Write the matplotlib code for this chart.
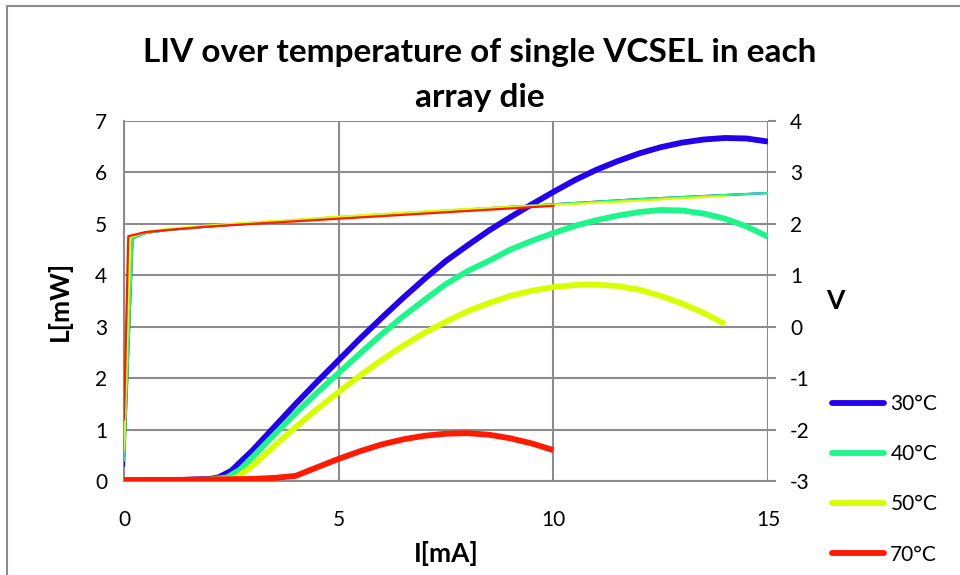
import matplotlib.pyplot as plt
from matplotlib.lines import Line2D

plt.rcParams['font.family'] = ['Lato', 'DejaVu Sans']
plt.rcParams['axes.unicode_minus'] = False

# light output L[mW] vs current I[mA]
i30 = [0, 1, 2, 2.2, 2.5, 3, 3.5, 4, 4.5, 5, 5.5, 6, 6.5, 7, 7.5, 8, 8.5, 9, 9.5,
       10, 10.5, 11, 11.5, 12, 12.5, 13, 13.5, 14, 14.5, 15]
l30 = [0, 0.01, 0.04, 0.07, 0.2, 0.6, 1.05, 1.5, 1.93, 2.35, 2.77, 3.17, 3.56, 3.93,
       4.28, 4.58, 4.87, 5.13, 5.38, 5.62, 5.85, 6.05, 6.22, 6.37, 6.49, 6.58, 6.64,
       6.67, 6.66, 6.6]
i40 = [0, 1, 2, 2.4, 2.7, 3, 3.5, 4, 4.5, 5, 5.5, 6, 6.5, 7, 7.5, 8, 8.5, 9, 9.5,
       10, 10.5, 11, 11.5, 12, 12.5, 13, 13.5, 14, 14.5, 15]
l40 = [0, 0.01, 0.03, 0.07, 0.22, 0.47, 0.9, 1.32, 1.72, 2.1, 2.48, 2.85, 3.2, 3.52,
       3.83, 4.08, 4.28, 4.5, 4.67, 4.82, 4.96, 5.07, 5.16, 5.23, 5.27, 5.26, 5.2,
       5.1, 4.95, 4.75]
i50 = [0, 1, 2, 2.6, 3, 3.5, 4, 4.5, 5, 5.5, 6, 6.5, 7, 7.5, 8, 8.5, 9, 9.5, 10,
       10.5, 11, 11.5, 12, 12.5, 13, 13.5, 14]
l50 = [0, 0.01, 0.02, 0.05, 0.3, 0.68, 1.05, 1.4, 1.73, 2.05, 2.35, 2.63, 2.88, 3.1,
       3.3, 3.46, 3.6, 3.7, 3.77, 3.81, 3.82, 3.79, 3.72, 3.6, 3.45, 3.27, 3.05]
i70 = [0, 1, 2, 3, 3.5, 4, 4.3, 4.6, 5, 5.5, 6, 6.5, 7, 7.5, 8, 8.5, 9, 9.5, 10]
l70 = [0.02, 0.02, 0.03, 0.04, 0.06, 0.1, 0.2, 0.3, 0.43, 0.58, 0.71, 0.81, 0.88,
       0.92, 0.93, 0.9, 0.83, 0.73, 0.6]

# voltage V vs current I[mA]
vi30 = [0, 0.2, 0.5, 1, 2, 3, 4, 5, 6, 7, 8, 9, 10, 11, 12, 13, 14, 15]
v30 = [-2.7, 1.72, 1.82, 1.88, 1.95, 2.01, 2.07, 2.13, 2.18, 2.23, 2.28, 2.33, 2.38,
       2.43, 2.48, 2.52, 2.56, 2.6]
vi40 = [0, 0.2, 0.5, 1, 2, 3, 4, 5, 6, 7, 8, 9, 10, 11, 12, 13, 14, 15]
v40 = [-2.6, 1.72, 1.82, 1.88, 1.95, 2.01, 2.07, 2.13, 2.18, 2.23, 2.28, 2.33, 2.38,
       2.43, 2.48, 2.52, 2.56, 2.6]
vi50 = [0, 0.15, 0.5, 1, 2, 3, 4, 5, 6, 7, 8, 9, 10, 11, 12, 13, 14]
v50 = [-2.4, 1.74, 1.84, 1.9, 1.97, 2.03, 2.08, 2.14, 2.19, 2.24, 2.29, 2.33, 2.37,
       2.41, 2.45, 2.5, 2.54]
vi70 = [0, 0.1, 0.5, 1, 2, 3, 4, 5, 6, 7, 8, 9, 10]
v70 = [-1.8, 1.76, 1.84, 1.88, 1.95, 2.0, 2.05, 2.1, 2.15, 2.2, 2.25, 2.3, 2.35]

labels = ['30°C', '40°C', '50°C', '70°C']
colors = ['#2200ee', '#1ef58a', '#d8ff00', '#ff1a00']

fig = plt.figure(figsize=(9.6, 5.75), dpi=100)
ax = fig.add_axes([124 / 960, 1 - 481 / 575, 644 / 960, 360 / 575])
ax2 = ax.twinx()

grid_c = '#8c8c8c'
for xs, ys, c in zip([i30, i40, i50, i70], [l30, l40, l50, l70], colors):
    ax.plot(xs, ys, color=c, lw=4.2, solid_capstyle='butt', zorder=3)
for xs, ys, c in zip([vi30, vi40, vi50, vi70], [v30, v40, v50, v70], colors):
    ax2.plot(xs, ys, color=c, lw=1.6, zorder=3)

ax.set_xlim(0, 15)
ax.set_ylim(0, 7)
ax2.set_ylim(-3, 4)
ax.set_xticks([0, 5, 10, 15])
ax.set_yticks(range(0, 8))
ax2.set_yticks(range(-3, 5))
ax.grid(True, color=grid_c, lw=1.5)
ax.set_axisbelow(True)
for a in (ax, ax2):
    for s in a.spines.values():
        s.set_visible(False)
ax.spines['left'].set_visible(True)
ax.spines['left'].set_color(grid_c)
ax.spines['left'].set_linewidth(1.5)
ax.spines['bottom'].set_visible(True)
ax.spines['bottom'].set_color(grid_c)
ax.spines['bottom'].set_linewidth(1.5)

ax.tick_params(axis='x', length=0, labelsize=15, pad=21)
ax.tick_params(axis='y', length=0, labelsize=15, pad=12)
ax2.tick_params(axis='y', length=6, width=1.5, color=grid_c, labelsize=15, pad=10)

ax.set_xlabel('I[mA]', fontsize=19, fontweight='bold', labelpad=8)
ax.set_ylabel('L[mW]', fontsize=19, fontweight='bold', labelpad=17)
ax2.set_ylabel('V', fontsize=19, fontweight='bold', rotation=0, labelpad=18, va='center')

fig.text(0.5, 1 - 75 / 575, 'LIV over temperature of single VCSEL in each\narray die',
         ha='center', va='center', fontsize=24, fontweight='bold', linespacing=1.65)

handles = [Line2D([], [], color=c, lw=4.2, solid_capstyle='round') for c in colors]
fig.legend(handles, labels, loc='upper left', bbox_to_anchor=(832 / 960, 1 - 394 / 575),
           frameon=False, fontsize=15, handlelength=2.5, handletextpad=0.3,
           labelspacing=1.45, borderaxespad=0, borderpad=0)

# outer chart border (cropped image: only left and top visible)
fig.add_artist(Line2D([7 / 960, 7 / 960], [0, 1 - 6 / 575], color=grid_c, lw=1.5,
                      transform=fig.transFigure))
fig.add_artist(Line2D([7 / 960, 1], [1 - 6 / 575, 1 - 6 / 575], color=grid_c, lw=1.5,
                      transform=fig.transFigure))

fig.savefig('out.png', dpi=100)
